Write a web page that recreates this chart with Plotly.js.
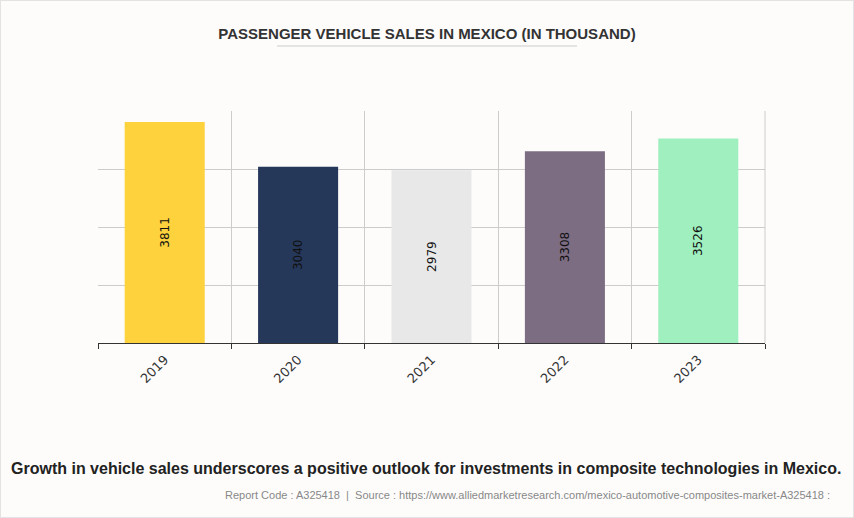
<!DOCTYPE html>
<html>
<head>
<meta charset="utf-8">
<script src="https://cdn.plot.ly/plotly-3.0.1.min.js"></script>
<style>
  html, body { margin: 0; padding: 0; background: #fdfcfb; }
  #chart { width: 854px; height: 518px; box-sizing: border-box; border: 1px solid #e3e3e3; }
</style>
</head>
<body>
<div id="chart"></div>
<script>
const years = ["2019", "2020", "2021", "2022", "2023"];
const sales = [3811, 3040, 2979, 3308, 3526];
const barColors = ["#fdd23c", "#25385a", "#e8e8e8", "#7c6d83", "#a0efbf"];
const chartTitle = "PASSENGER VEHICLE SALES IN MEXICO (IN THOUSAND)";
const caption = "Growth in vehicle sales underscores a positive outlook for investments in composite technologies in Mexico.";
const source = "Report Code : A325418  |  Source : https://www.alliedmarketresearch.com/mexico-automotive-composites-market-A325418 :";

const trace = {
  type: "bar",
  x: years,
  y: sales,
  marker: { color: barColors },
  text: sales.map(String),
  textposition: "inside",
  insidetextanchor: "middle",
  textangle: -90,
  textfont: { family: "DejaVu Sans, sans-serif", size: 12, color: "#111" },
  hoverinfo: "x+y"
};

const layout = {
  width: 852, height: 516,
  margin: { l: 97, r: 88, t: 110, b: 174 },
  paper_bgcolor: "#fdfcfb",
  plot_bgcolor: "#fdfcfb",
  bargap: 0.4,
  showlegend: false,
  title: {
    text: "<b>" + chartTitle + "</b>",
    font: { family: "Liberation Sans, Arial, sans-serif", size: 15, color: "#333" },
    x: 0.5, xanchor: "center",
    y: 1 - 33 / 516, yref: "container", yanchor: "middle"
  },
  xaxis: {
    type: "category",
    tickson: "boundaries",
    showgrid: true,
    gridcolor: "#cccccc",
    gridwidth: 1,
    showline: true,
    linecolor: "#333",
    linewidth: 1,
    ticks: "outside",
    ticklen: 5,
    tickcolor: "#333",
    tickangle: -45,
    ticklabelstandoff: 3,
    tickfont: { family: "DejaVu Sans, sans-serif", size: 13, color: "#333" },
    fixedrange: true
  },
  yaxis: {
    range: [0, 4000],
    dtick: 1000,
    showgrid: true,
    gridcolor: "#cccccc",
    gridwidth: 1,
    showticklabels: false,
    zeroline: false,
    showline: false,
    ticks: "",
    fixedrange: true
  },
  shapes: [
    { type: "line", xref: "paper", yref: "paper",
      x0: (277 - 98) / 667, x1: (577 - 98) / 667,
      y0: (343 - 46) / 232, y1: (343 - 46) / 232,
      line: { color: "#cccccc", width: 1 } },
    { type: "line", xref: "paper", yref: "paper",
      x0: 1, x1: 1, y0: 0, y1: 1,
      line: { color: "#cccccc", width: 1 } }
  ],
  annotations: [
    { text: "<b>" + caption + "</b>", xref: "paper", yref: "paper",
      x: (426 - 98) / 667, y: (343 - 468) / 232, xanchor: "center", yanchor: "middle",
      showarrow: false,
      font: { family: "Liberation Sans, Arial, sans-serif", size: 16, color: "#222" } },
    { text: source, xref: "paper", yref: "paper",
      x: (832 - 98) / 667, y: (343 - 495) / 232, xanchor: "right", yanchor: "middle",
      showarrow: false,
      font: { family: "Liberation Sans, Arial, sans-serif", size: 11, color: "#888" } }
  ]
};

Plotly.newPlot("chart", [trace], layout, { displayModeBar: false, staticPlot: true });
</script>
</body>
</html>
